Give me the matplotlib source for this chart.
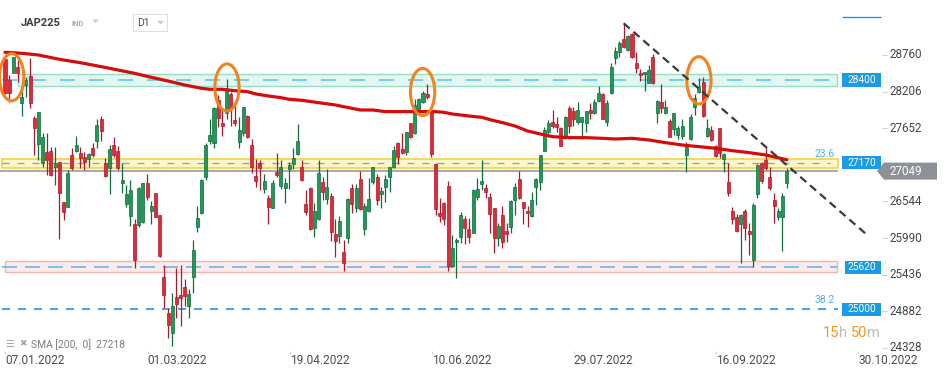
import numpy as np
import matplotlib.pyplot as plt
from matplotlib.patches import Rectangle, Ellipse, Polygon

plt.rcParams['font.family'] = ['Roboto', 'DejaVu Sans']

# JAP225 daily candles from 07.01.2022
opens = [28707, 28400, 28509, 28598, 28054, 28326, 28460, 27842, 27451, 27165,
         27338, 27347, 27115, 27179, 26586, 26522, 27283, 27352, 27313, 27263,
         27224, 27392, 27501, 27822, 27165, 27090, 27436, 27347, 26878, 26561,
         26388, 26265, 26250, 26300, 26868, 26458, 26720, 26398, 25484, 24940,
         24654, 25187, 25212, 25336, 25054, 25484, 26225, 26433, 26957, 27501,
         27471, 28104, 27758, 27906, 28193, 27807, 27486, 27619, 27866, 27431,
         26977, 27165, 26779, 26646, 26497, 27036, 26833, 26804, 27076, 27155,
         27298, 27105, 26561, 26794, 26201, 26334, 26883, 26631, 26680, 26117,
         26087, 25845, 26052, 26794, 26497, 26927, 26186, 26463, 26893, 26957,
         26705, 26809, 26967, 27115, 27461, 27372, 27328, 27758, 27609, 27945,
         28079, 28193, 27906, 27155, 26433, 26571, 26828, 25642, 25993, 26077,
         26334, 26186, 26136, 26670, 26853, 26794, 26660, 26497, 26052, 26398,
         26161, 26225, 26621, 26927, 26586, 26458, 26388, 26809, 26893, 27352,
         27634, 27772, 27743, 27684, 27560, 27980, 27941, 27772, 27782, 27758,
         27955, 27906, 28094, 28193, 27772, 28203, 28722, 28820, 29003, 28845,
         29082, 28647, 28499, 28489, 28361, 28736, 27906, 28079, 27906, 27792,
         27669, 27585, 27575, 27288, 27525, 27995, 28227, 28376, 27570, 27659,
         27422, 27684, 27224, 26893, 26463, 26364, 26265, 26463, 26161, 25731,
         26710, 27174, 27214, 26957, 26621, 26374, 26374, 26868]
highs = [28722, 28474, 28746, 28697, 28326, 28440, 28722, 27866, 27921, 27609,
         27609, 27412, 27412, 27189, 26596, 27066, 27397, 27570, 27412, 27338,
         27323, 27461, 27817, 27866, 27239, 27436, 27560, 27422, 27165, 26843,
         26917, 26334, 26819, 26878, 27006, 26606, 26730, 26398, 25657, 25014,
         25247, 25607, 25657, 25444, 25296, 26028, 26532, 26927, 27471, 27817,
         27995, 28178, 27955, 28410, 28227, 28089, 27857, 28005, 27881, 27520,
         27224, 27214, 27006, 26695, 26917, 27313, 27214, 26952, 27189, 27387,
         27748, 27214, 26769, 26819, 26581, 27214, 26967, 27076, 26730, 26334,
         26384, 26028, 26646, 26853, 26858, 27051, 26571, 26942, 27115, 27006,
         26809, 26992, 27115, 27422, 27486, 27609, 27634, 27768, 28114, 28128,
         28242, 28341, 27955, 27165, 26646, 26596, 26903, 26102, 26052, 26448,
         26384, 26349, 26779, 26942, 27214, 26858, 26720, 26507, 26275, 26532,
         26275, 26621, 26878, 27056, 26596, 26532, 26744, 26942, 27288, 27698,
         27807, 27955, 27847, 27708, 27871, 28015, 27995, 28074, 27857, 27945,
         28064, 28114, 28311, 28203, 28104, 28647, 28885, 28984, 29241, 29068,
         29092, 28820, 28558, 28524, 28623, 28786, 28104, 28341, 28104, 27817,
         27916, 27718, 27822, 27486, 27891, 28193, 28425, 28440, 27822, 27718,
         27436, 27693, 27313, 27165, 26512, 26413, 26408, 26482, 26285, 26581,
         27155, 27189, 27412, 27115, 26720, 26497, 26730, 27090]
lows = [28193, 28079, 28499, 28376, 27866, 28153, 27990, 27288, 27214, 27115,
        26992, 26982, 26843, 26037, 26324, 26522, 27066, 27338, 27090, 27066,
        27115, 27263, 27397, 27501, 26967, 26710, 27263, 27066, 26720, 26522,
        26240, 25607, 26225, 26275, 26621, 26265, 26364, 25771, 25014, 24570,
        24456, 24866, 24752, 25049, 24866, 25247, 26151, 26408, 26917, 27451,
        27397, 27708, 27575, 27817, 27718, 27718, 27397, 27570, 27535, 27016,
        26819, 26769, 26730, 26265, 26497, 26967, 26784, 26581, 26784, 27076,
        27288, 26907, 26398, 26176, 26067, 26324, 26621, 26557, 26018, 25780,
        25988, 25573, 25978, 26433, 26448, 26472, 26102, 26448, 26858, 26547,
        26497, 26596, 26744, 27100, 27155, 27303, 27288, 27535, 27599, 27931,
        28054, 28114, 27263, 26398, 26300, 26250, 25573, 25632, 25469, 25978,
        25963, 25988, 26126, 26621, 26769, 26646, 26136, 25830, 25939, 25914,
        26003, 26126, 26398, 26631, 26260, 26225, 26364, 26547, 26769, 27352,
        27550, 27693, 27634, 27422, 27520, 27609, 27718, 27748, 27520, 27634,
        27827, 27896, 28079, 27817, 27718, 28193, 28638, 28746, 28870, 28835,
        28731, 28509, 28390, 28242, 28351, 28341, 27768, 27906, 27896, 27550,
        27585, 27520, 27520, 27041, 27511, 27881, 28212, 27857, 27550, 27501,
        27263, 27239, 27041, 26680, 26265, 26151, 25692, 26028, 25805, 25622,
        26655, 26868, 27066, 26769, 26285, 26324, 25869, 26794]
closes = [28212, 28212, 28736, 28509, 28143, 28400, 28054, 27684, 27921, 27550,
          27214, 26992, 27165, 26720, 26448, 27026, 27090, 27436, 27239, 27189,
          27298, 27288, 27728, 27649, 26982, 27382, 27288, 27090, 26917, 26710,
          26769, 25731, 26794, 26868, 26660, 26532, 26374, 25795, 25207, 24772,
          25049, 25074, 25172, 25197, 25227, 25879, 26349, 26917, 27436, 27585,
          27980, 27832, 27723, 28252, 27965, 27758, 27659, 27995, 27550, 27115,
          26907, 27090, 26898, 26522, 26868, 26997, 27105, 26868, 27140, 27239,
          27496, 26917, 26448, 26186, 26458, 27016, 26744, 26809, 26151, 26018,
          26309, 25682, 26631, 26557, 26794, 26482, 26532, 26631, 27105, 26621,
          26749, 26937, 27105, 27362, 27263, 27313, 27624, 27550, 28030, 28114,
          28203, 28153, 27298, 26482, 26388, 26334, 25642, 25904, 26028, 26398,
          26201, 26077, 26769, 26779, 26903, 26744, 26408, 26052, 26235, 26003,
          26112, 26606, 26809, 26646, 26497, 26423, 26621, 26927, 27283, 27659,
          27758, 27718, 27708, 27426, 27857, 27723, 27817, 27955, 27847, 27941,
          27906, 28074, 28203, 27827, 28054, 28588, 28830, 28954, 28885, 29053,
          28746, 28583, 28474, 28514, 28549, 28351, 28089, 27980, 27995, 27560,
          27906, 27693, 27723, 27402, 27847, 28128, 28301, 27866, 27684, 27511,
          27273, 27313, 27303, 26720, 26334, 26166, 26398, 26201, 26112, 26547,
          27140, 26907, 27090, 26794, 26537, 26458, 26680, 27049]

# SMA(200) (bar index, value)
sma_idx = [0, 4, 8, 13, 18, 23, 31, 35, 39, 43, 47, 49, 52, 55, 58, 60, 63, 66, 68, 71,
           75, 79, 83, 85, 88, 91, 95, 103, 105, 107, 111, 114, 117, 119, 122, 125, 128,
           131, 135, 139, 143, 146, 150, 154, 158, 162, 166, 170, 174, 178, 182, 187]
sma_val = [28811, 28796, 28771, 28707, 28657, 28598, 28499, 28440, 28385, 28326, 28277,
           28262, 28262, 28242, 28227, 28193, 28163, 28138, 28114, 28099, 28064, 28030,
           27980, 27955, 27955, 27931, 27931, 27931, 27921, 27896, 27866, 27847, 27797,
           27768, 27718, 27644, 27600, 27560, 27545, 27545, 27535, 27525, 27535, 27511,
           27471, 27436, 27412, 27387, 27352, 27323, 27288, 27218]

date_labels = ['07.01.2022', '01.03.2022', '19.04.2022', '10.06.2022',
               '29.07.2022', '16.09.2022', '30.10.2022']
date_pos = [0, 34, 68, 102, 136, 170, 204]
price_ticks = [28760, 28206, 27652, 27098, 26544, 25990, 25436, 24882, 24328]

level_vals = [28400, 27170, 25620, 25000]
fib_names = ['23.6', '38.2']
fib_vals = [27170, 25000]
last_price = 27049
sma_last = 27218

zone_green = [28315, 28484]
zone_yellow = [27091, 27224]
zone_pink = [25557, 25711]

trend_idx = [148, 206]
trend_val = [29241, 26116]

mark_idx = [1.6, 53.1, 99.9, 166.0]
mark_val = [28441, 28289, 28222, 28396]

# pixel layout of the 949x378 picture
W, H = 949, 378
PX0, PX_BAR, PRICE_PX = 5.0, 4.18, 14.83
# the scale labels sit on a slightly wider spacing than the plotted prices
LABEL_TOP, LABEL_PX = 55.0, 36.6 / 554


def xd(px):
    return (px - PX0) / PX_BAR


def yd(py):
    return 28400 - (py - 80) * PRICE_PX


def label_y(p):
    return yd(LABEL_TOP + (price_ticks[0] - p) * LABEL_PX)


def dash(on_px, off_px, lw):
    k = 100 / 72 * lw
    return (0, (on_px / k, off_px / k))


GREEN, GREEN_EDGE = '#1f9a57', '#116b3a'
RED, RED_EDGE = '#e02a38', '#b0182a'
BLUE = '#1a9be8'

fig = plt.figure(figsize=(W / 100, H / 100), dpi=100)
ax = fig.add_axes([0, 0, 1, 1])
ax.axis('off')
ax.set_xlim(xd(0), xd(W))
ax.set_ylim(yd(H), yd(0))

# zones
ax.add_patch(Rectangle((xd(18), zone_green[0]), xd(837) - xd(18), zone_green[1] - zone_green[0],
                       fc='#e3f7f1', ec='#98ddc7', lw=1, zorder=1))
ax.add_patch(Rectangle((xd(2), zone_yellow[0]), xd(838) - xd(2), zone_yellow[1] - zone_yellow[0],
                       fc='#fff7cc', ec='#f3cf35', lw=1.1, zorder=1))
ax.add_patch(Rectangle((xd(5), zone_pink[0]), xd(837) - xd(5), zone_pink[1] - zone_pink[0],
                       fc='#fdeaea', ec='#f1b7b7', lw=1, zorder=1))

ax.hlines(level_vals[0], xd(2), xd(837), colors='#63c4ee', lw=1.2, linestyles=[dash(15, 14, 1.2)], zorder=1.5)
ax.hlines(level_vals[1], xd(2), xd(830), colors='#6bb0a6', lw=0.9, linestyles=[dash(7, 8, 0.9)], zorder=1.5)
ax.hlines(level_vals[2], xd(2), xd(837), colors='#66b6e6', lw=1.2, linestyles=[dash(15, 8, 1.2)], zorder=1.5)
ax.hlines(level_vals[3], xd(2), xd(838), colors='#1b98e2', lw=1.2, linestyles=[dash(8, 8, 1.2)], zorder=1.5)
ax.hlines(last_price, xd(0), xd(838), colors='#8e949a', lw=1.1, zorder=2)

# candles
o = np.array(opens, float)
h = np.array(highs, float)
l = np.array(lows, float)
c = np.array(closes, float)
idx = np.arange(len(o))
up = c >= o
lo = np.minimum(o, c)
bh = np.maximum(np.abs(c - o), 12)
for m, fc, ec in [(up, GREEN, GREEN_EDGE), (~up, RED, RED_EDGE)]:
    ax.vlines(idx[m], l[m], h[m], colors=ec, lw=0.9, zorder=3)
    ax.bar(idx[m], bh[m], bottom=lo[m], width=0.72, color=fc, edgecolor=ec, lw=0.5, zorder=4)

ax.plot(sma_idx, sma_val, color='#d40c0c', lw=2.3, solid_capstyle='round', zorder=5)

for mx, my in zip(mark_idx, mark_val):
    ax.add_patch(Ellipse((mx, my), 5.8, 700, fill=False, ec='#f5821f', lw=2.2, zorder=6))

ax.plot(trend_idx, trend_val, color='#353b41', lw=1.6, ls=dash(8, 5, 1.6), zorder=6, clip_on=False)

# right price scale
for p in price_ticks:
    ax.hlines(label_y(p), xd(882), xd(887), colors='#cfd3d6', lw=0.8)
    if p != 27098:
        ax.text(xd(890), label_y(p), str(p), ha='left', va='center', fontsize=8.4, color='#454545')

box_left = [842, 842, 845, 842]
for p, bx in zip(level_vals, box_left):
    ax.add_patch(Rectangle((xd(bx), p - 6.5 * PRICE_PX), xd(881) - xd(bx), 13 * PRICE_PX,
                           fc=BLUE, ec='none', zorder=7))
    ax.text(xd(862), p, str(p), ha='center', va='center', fontsize=7.3, color='white', zorder=8)

ax.add_patch(Polygon([(xd(877), last_price), (xd(884), last_price + 8.5 * PRICE_PX),
                      (xd(937), last_price + 8.5 * PRICE_PX), (xd(937), last_price - 8.5 * PRICE_PX),
                      (xd(884), last_price - 8.5 * PRICE_PX)], closed=True, fc='#8b9196', ec='none', zorder=7))
ax.text(xd(889), last_price, str(last_price), ha='left', va='center', fontsize=8.4, color='white', zorder=8)

for name, p in zip(fib_names, fib_vals):
    ax.text(xd(835), p + 9 * PRICE_PX, name, ha='right', va='center', fontsize=7.5, color='#4cb2ee')

ax.hlines(yd(17), xd(842), xd(881), colors=BLUE, lw=1)

# date axis
for lbl, pos in zip(date_labels, date_pos):
    ax.vlines(pos + 0.1, yd(354), yd(351), colors='#d0d0d0', lw=0.8)
    ax.text(pos + 0.1, yd(361), lbl, ha='left', va='center', fontsize=8.6, color='#4d4d4d')

# header
ax.text(xd(20.5), yd(23), 'JAP225', ha='left', va='center', fontsize=8, fontweight='bold', color='#3c3c3c')
ax.text(xd(71), yd(24), 'IND', ha='left', va='center', fontsize=5.5, fontweight='bold', color='#a9afb5')
ax.add_patch(Polygon([(xd(92), yd(19.5)), (xd(99), yd(19.5)), (xd(95.5), yd(23))], fc='#c9cdd1', ec='none'))
ax.add_patch(Rectangle((xd(132.5), yd(31)), xd(166.5) - xd(132.5), yd(14) - yd(31),
                       fc='white', ec='#dcdfe2', lw=0.8))
ax.text(xd(137), yd(23), 'D1', ha='left', va='center', fontsize=7.5, color='#4a4a4a')
ax.add_patch(Polygon([(xd(157), yd(21)), (xd(164), yd(21)), (xd(160.5), yd(24.5))], fc='#c9cdd1', ec='none'))

# indicator legend
ax.text(xd(5), yd(344), '\u2630', ha='left', va='center', fontsize=7, color='#a3a7ab', family='DejaVu Sans')
ax.text(xd(19), yd(344), '\u2716', ha='left', va='center', fontsize=6.5, color='#a3a7ab', family='DejaVu Sans')
ax.text(xd(31), yd(345), f'SMA [200,  0]  {sma_last}', ha='left', va='center', fontsize=7.4, color='#7a7e82')

# countdown
t = ax.text(xd(822.5), yd(333), '15', ha='left', va='center', fontsize=10.5, color='#f7941d')
for s, col in [('h ', '#b9bdc1'), ('50', '#f7941d'), ('m', '#b9bdc1')]:
    t = ax.annotate(s, xy=(1, 0), xycoords=t, ha='left', va='bottom', fontsize=10.5, color=col)

fig.savefig('out.png', dpi=100)
